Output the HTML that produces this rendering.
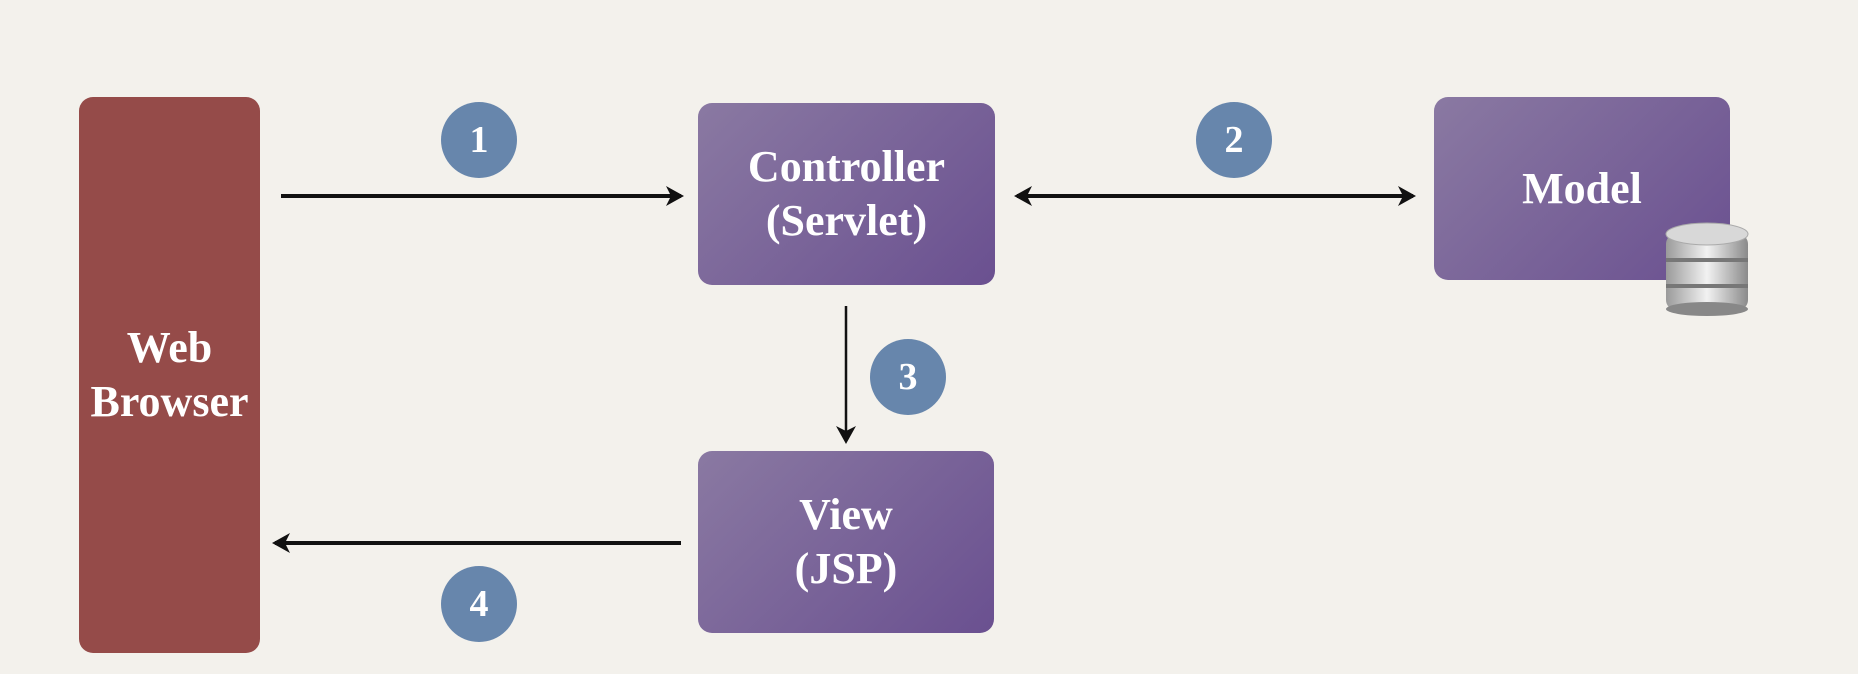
<!DOCTYPE html>
<html><head><style>
body{margin:0;width:1858px;height:674px;background:#f3f1ec;position:relative;overflow:hidden;font-family:"Liberation Serif",serif;}
.b{position:absolute;color:#fff;font-weight:bold;font-size:44px;display:flex;align-items:center;justify-content:center;text-align:center;line-height:54px;border-radius:14px;}
.p{background:linear-gradient(135deg,#8a79a2,#6a5090);}
.c{position:absolute;width:76px;height:76px;border-radius:50%;background:#6786ac;color:#fff;font-weight:bold;font-size:38px;display:flex;align-items:center;justify-content:center;}
</style></head><body>
<div class="b" style="left:79px;top:97px;width:181px;height:556px;background:#954b49;">Web<br>Browser</div>
<div class="b p" style="left:698px;top:103px;width:297px;height:182px;">Controller<br>(Servlet)</div>
<div class="b p" style="left:1434px;top:97px;width:296px;height:183px;">Model</div>
<div class="b p" style="left:698px;top:451px;width:296px;height:182px;">View<br>(JSP)</div>
<div class="c" style="left:441px;top:102px;">1</div>
<div class="c" style="left:1196px;top:102px;">2</div>
<div class="c" style="left:870px;top:339px;">3</div>
<div class="c" style="left:441px;top:566px;">4</div>
<svg width="1858" height="674" style="position:absolute;left:0;top:0">
<defs>
<marker id="a" markerWidth="18" markerHeight="20" refX="15" refY="10" orient="auto" markerUnits="userSpaceOnUse"><path d="M0,0 L18,10 L0,20 L5,10z" fill="#111"/></marker>
<marker id="s" markerWidth="18" markerHeight="20" refX="3" refY="10" orient="auto" markerUnits="userSpaceOnUse"><path d="M18,0 L0,10 L18,20 L13,10z" fill="#111"/></marker>
<linearGradient id="g" x1="0" x2="1"><stop offset="0" stop-color="#9a9a9a"/><stop offset=".5" stop-color="#f2f2f2"/><stop offset="1" stop-color="#8a8a8a"/></linearGradient>
</defs>
<g stroke="#111" stroke-width="4" fill="none">
<line x1="281" y1="196" x2="681" y2="196" marker-end="url(#a)"/>
<line x1="1017" y1="196" x2="1413" y2="196" marker-end="url(#a)" marker-start="url(#s)"/>
<line x1="846" y1="306" x2="846" y2="441" stroke-width="2.5" marker-end="url(#a)"/>
<line x1="681" y1="543" x2="275" y2="543" marker-end="url(#a)"/>
</g>
<g>
<rect x="1666" y="234" width="82" height="76" rx="10" fill="url(#g)"/>
<ellipse cx="1707" cy="309" rx="41" ry="7" fill="#888"/>
<rect x="1666" y="258" width="82" height="4" fill="#777"/>
<rect x="1666" y="284" width="82" height="4" fill="#777"/>
<ellipse cx="1707" cy="234" rx="41" ry="11" fill="#d8d8d8" stroke="#aaa"/>
</g>
</svg>
</body></html>
